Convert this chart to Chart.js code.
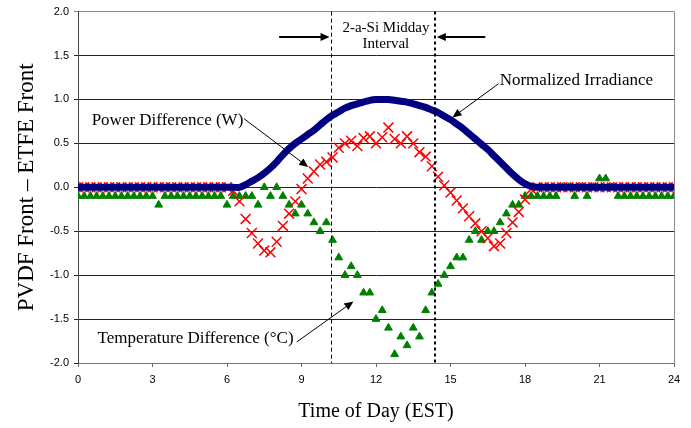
<!DOCTYPE html>
<html>
<head>
<meta charset="utf-8">
<script src="https://cdn.jsdelivr.net/npm/chart.js@4.4.0/dist/chart.umd.min.js"></script>
<style>
  html, body { margin: 0; padding: 0; background: #fff; }
  #wrap { width: 691px; height: 428px; }
</style>
</head>
<body>
<div id="wrap"><canvas id="chart"></canvas></div>
<script>
// time of day (EST), 15 minute samples
const hours = [
  0, 0.25, 0.5, 0.75, 1, 1.25, 1.5, 1.75, 2, 2.25, 2.5, 2.75,
  3, 3.25, 3.5, 3.75, 4, 4.25, 4.5, 4.75, 5, 5.25, 5.5, 5.75,
  6, 6.25, 6.5, 6.75, 7, 7.25, 7.5, 7.75, 8, 8.25, 8.5, 8.75,
  9, 9.25, 9.5, 9.75, 10, 10.25, 10.5, 10.75, 11, 11.25, 11.5, 11.75,
  12, 12.25, 12.5, 12.75, 13, 13.25, 13.5, 13.75, 14, 14.25, 14.5, 14.75,
  15, 15.25, 15.5, 15.75, 16, 16.25, 16.5, 16.75, 17, 17.25, 17.5, 17.75,
  18, 18.25, 18.5, 18.75, 19, 19.25, 19.5, 19.75, 20, 20.25, 20.5, 20.75,
  21, 21.25, 21.5, 21.75, 22, 22.25, 22.5, 22.75, 23, 23.25, 23.5, 23.75,
  24
];

const irradiance = [
  0, 0, 0, 0, 0, 0, 0, 0, 0, 0, 0, 0,
  0, 0, 0, 0, 0, 0, 0, 0, 0, 0, 0, 0,
  0, 0, 0, 0.03, 0.07, 0.11, 0.16, 0.22, 0.29, 0.37, 0.44, 0.50,
  0.55, 0.60, 0.65, 0.71, 0.77, 0.82, 0.86, 0.90, 0.93, 0.95, 0.97, 0.99,
  1.00, 1.00, 1.00, 0.99, 0.98, 0.97, 0.95, 0.93, 0.91, 0.88, 0.85, 0.81,
  0.77, 0.72, 0.67, 0.61, 0.55, 0.49, 0.43, 0.36, 0.29, 0.22, 0.15, 0.09,
  0.04, 0.01, 0, 0, 0, 0, 0, 0, 0, 0, 0, 0,
  0, 0, 0, 0, 0, 0, 0, 0, 0, 0, 0, 0,
  0
];

const powerDiff = [
  0, 0, 0, 0, 0, 0, 0, 0, 0, 0, 0, 0,
  0, 0, 0, 0, 0, 0, 0, 0, 0, 0, 0, 0,
  0, -0.04, -0.16, -0.36, -0.52, -0.64, -0.72, -0.74, -0.62, -0.44, -0.30, -0.16,
  -0.02, 0.10, 0.18, 0.26, 0.29, 0.34, 0.45, 0.50, 0.53, 0.47, 0.56, 0.58,
  0.50, 0.57, 0.68, 0.55, 0.50, 0.58, 0.50, 0.40, 0.35, 0.24, 0.12, 0.02,
  -0.06, -0.15, -0.24, -0.33, -0.41, -0.50, -0.58, -0.67, -0.64, -0.52, -0.40, -0.28,
  -0.14, -0.02, 0, 0, 0, 0, 0, 0, 0, 0, 0, 0,
  0, 0, 0, 0, 0, 0, 0, 0, 0, 0, 0, 0,
  0
];

const tempDiff = [
  -0.1, -0.1, -0.1, -0.1, -0.1, -0.1, -0.1, -0.1, -0.1, -0.1, -0.1, -0.1,
  -0.1, -0.2, -0.1, -0.1, -0.1, -0.1, -0.1, -0.1, -0.1, -0.1, -0.1, -0.1,
  -0.2, -0.1, -0.1, -0.1, -0.1, -0.2, 0, -0.1, 0, -0.1, -0.2, -0.3,
  -0.2, -0.3, -0.4, -0.5, -0.4, -0.6, -0.8, -1.0, -0.9, -1.0, -1.2, -1.2,
  -1.5, -1.4, -1.6, -1.9, -1.7, -1.8, -1.6, -1.7, -1.4, -1.2, -1.1, -1.0,
  -0.9, -0.8, -0.8, -0.6, -0.5, -0.6, -0.5, -0.5, -0.4, -0.3, -0.2, -0.2,
  -0.1, -0.1, -0.1, -0.1, -0.1, -0.1, 0, 0, -0.1, 0, -0.1, 0,
  0.1, 0.1, 0, -0.1, -0.1, -0.1, -0.1, -0.1, -0.1, -0.1, -0.1, -0.1,
  -0.1
];

const xTicks = [0, 3, 6, 9, 12, 15, 18, 21, 24];
const intervalStart = 10.2;
const intervalEnd = 14.38;

function points(values) {
  return values.map((v, i) => ({ x: hours[i], y: v }));
}

function arrow(ctx, x1, y1, x2, y2, len, half) {
  const a = Math.atan2(y2 - y1, x2 - x1);
  ctx.beginPath();
  ctx.moveTo(x1, y1);
  ctx.lineTo(x2 - Math.cos(a) * len * 0.8, y2 - Math.sin(a) * len * 0.8);
  ctx.stroke();
  ctx.beginPath();
  ctx.moveTo(x2, y2);
  ctx.lineTo(x2 - Math.cos(a) * len + Math.sin(a) * half, y2 - Math.sin(a) * len - Math.cos(a) * half);
  ctx.lineTo(x2 - Math.cos(a) * len - Math.sin(a) * half, y2 - Math.sin(a) * len + Math.cos(a) * half);
  ctx.closePath();
  ctx.fill();
}

const notes = {
  id: 'notes',
  beforeDatasetsDraw(chart) {
    const { ctx, chartArea: area } = chart;
    ctx.save();
    ctx.strokeStyle = '#888';
    ctx.lineWidth = 1;
    ctx.beginPath();
    ctx.moveTo(area.right + 0.5, area.top);
    ctx.lineTo(area.right + 0.5, area.bottom);
    ctx.stroke();
    ctx.restore();
  },
  afterDatasetsDraw(chart) {
    const { ctx, chartArea: area, scales: { x, y } } = chart;
    ctx.save();
    ctx.strokeStyle = '#000';
    ctx.fillStyle = '#000';

    // midday interval lines
    ctx.lineWidth = 1;
    ctx.setLineDash([4, 3]);
    ctx.beginPath();
    ctx.moveTo(Math.round(x.getPixelForValue(intervalStart)) + 0.5, area.top);
    ctx.lineTo(Math.round(x.getPixelForValue(intervalStart)) + 0.5, area.bottom);
    ctx.stroke();
    ctx.lineWidth = 2;
    ctx.setLineDash([3, 3]);
    ctx.beginPath();
    ctx.moveTo(Math.round(x.getPixelForValue(intervalEnd)), area.top);
    ctx.lineTo(Math.round(x.getPixelForValue(intervalEnd)), area.bottom);
    ctx.stroke();
    ctx.setLineDash([]);

    // interval arrows
    ctx.lineWidth = 2;
    arrow(ctx, x.getPixelForValue(8.1), y.getPixelForValue(1.71), x.getPixelForValue(10.13), y.getPixelForValue(1.71), 9, 4);
    arrow(ctx, x.getPixelForValue(16.4), y.getPixelForValue(1.71), x.getPixelForValue(14.45), y.getPixelForValue(1.71), 9, 4);

    // pointer arrows
    ctx.lineWidth = 1;
    arrow(ctx, x.getPixelForValue(16.94), y.getPixelForValue(1.18), x.getPixelForValue(15.08), y.getPixelForValue(0.795), 9, 4);
    arrow(ctx, x.getPixelForValue(6.69), y.getPixelForValue(0.78), x.getPixelForValue(9.27), y.getPixelForValue(0.23), 9, 4);
    arrow(ctx, x.getPixelForValue(8.81), y.getPixelForValue(-1.76), x.getPixelForValue(11.09), y.getPixelForValue(-1.30), 9, 4);

    // labels
    ctx.font = '17px "Liberation Serif", "Times New Roman", serif';
    ctx.textBaseline = 'middle';
    ctx.textAlign = 'left';
    ctx.fillText('Normalized Irradiance', x.getPixelForValue(16.98), y.getPixelForValue(1.21));
    ctx.fillText('Power Difference (W)', x.getPixelForValue(0.55), y.getPixelForValue(0.76));
    ctx.fillText('Temperature Difference (°C)', x.getPixelForValue(0.79), y.getPixelForValue(-1.72));
    ctx.font = '15px "Liberation Serif", "Times New Roman", serif';
    ctx.textAlign = 'center';
    ctx.fillText('2-a-Si Midday', x.getPixelForValue(12.4), y.getPixelForValue(1.81));
    ctx.fillText('Interval', x.getPixelForValue(12.4), y.getPixelForValue(1.63));
    ctx.restore();
  }
};

new Chart(document.getElementById('chart'), {
  type: 'scatter',
  data: {
    datasets: [
      {
        label: 'Normalized Irradiance',
        data: points(irradiance),
        showLine: true,
        borderColor: '#000080',
        backgroundColor: '#000080',
        borderWidth: 7,
        pointRadius: 0,
        tension: 0.3
      },
      {
        label: 'Power Difference (W)',
        data: points(powerDiff),
        pointStyle: 'crossRot',
        pointRadius: 7,
        borderWidth: 1.5,
        borderColor: '#ff0000',
        backgroundColor: '#ff0000'
      },
      {
        label: 'Temperature Difference (°C)',
        data: points(tempDiff),
        pointStyle: 'triangle',
        pointRadius: 4.5,
        borderWidth: 1,
        borderColor: '#008000',
        backgroundColor: '#008000'
      }
    ]
  },
  options: {
    responsive: true,
    maintainAspectRatio: false,
    animation: false,
    layout: { padding: { top: 11, right: 17 } },
    plugins: {
      legend: { display: false },
      tooltip: { enabled: false }
    },
    scales: {
      x: {
        type: 'linear',
        min: 0,
        max: 24,
        afterFit: s => { s.height = 65; },
        afterBuildTicks: s => { s.ticks = xTicks.map(v => ({ value: v })); },
        ticks: {
          color: '#000',
          padding: 6,
          maxRotation: 0,
          font: { family: '"Liberation Sans", Arial, sans-serif', size: 11 }
        },
        grid: { drawOnChartArea: false, tickLength: 4, color: '#666' },
        border: { color: '#777' },
        title: {
          display: true,
          text: 'Time of Day (EST)',
          color: '#000',
          padding: { top: 13 },
          font: { family: '"Liberation Serif", "Times New Roman", serif', size: 20 }
        }
      },
      y: {
        min: -2,
        max: 2,
        afterFit: s => { s.width = 78; },
        ticks: {
          stepSize: 0.5,
          color: '#000',
          padding: 5,
          callback: v => v.toFixed(1),
          font: { family: '"Liberation Sans", Arial, sans-serif', size: 11 }
        },
        grid: {
          tickLength: 4,
          color: c => (c.tick && c.tick.value === 2 ? '#888' : '#222')
        },
        border: { color: '#444' },
        title: {
          display: true,
          text: 'PVDF Front \u2013 ETFE Front',
          color: '#000',
          padding: { top: 13 },
          font: { family: '"Liberation Serif", "Times New Roman", serif', size: 23 }
        }
      }
    }
  },
  plugins: [notes]
});
</script>
</body>
</html>
